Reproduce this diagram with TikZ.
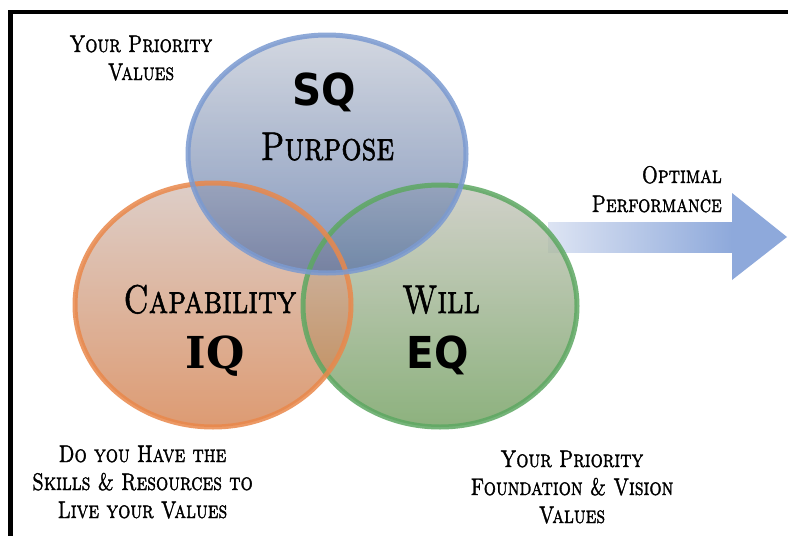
\documentclass[tikz,border=0pt]{standalone}
\usepackage{fontspec}
\usepackage{graphicx}
\newfontfamily\dvsans{DejaVu Sans}
\newfontfamily\dvserif{DejaVu Serif}
\newfontfamily\scfont{lmroman10-regular.otf}[SmallCapsFont=lmromancaps10-regular.otf, SmallCapsFeatures={FakeBold=1.6}]
\newcommand\sx[1]{\scalebox{0.8}[1]{#1}}
\definecolor{blueline}{HTML}{7B9AD1}
\definecolor{bluetop}{HTML}{C4CAD6}
\definecolor{bluebot}{HTML}{5A74A6}
\definecolor{orline}{HTML}{E9884B}
\definecolor{ortop}{HTML}{D2BEB6}
\definecolor{orbot}{HTML}{D27A44}
\definecolor{grline}{HTML}{5DA862}
\definecolor{grtop}{HTML}{C2C2B8}
\definecolor{grbot}{HTML}{679853}
\definecolor{arrowc}{HTML}{8EA9DB}
\definecolor{arrowl}{HTML}{DDE4F3}
\begin{document}
\begin{tikzpicture}[x=1pt,y=-1pt,
  desc/.style={inner sep=0pt, anchor=base, font=\scfont\fontsize{24}{28}\selectfont\scshape},
  title/.style={inner sep=0pt, anchor=base, font=\scfont\fontsize{40}{44}\selectfont\scshape},
  sanscode/.style={inner sep=0pt, anchor=base, font=\dvsans\bfseries\fontsize{44}{48}\selectfont},
  serifcode/.style={inner sep=0pt, anchor=base, font=\dvserif\bfseries\fontsize{44}{48}\selectfont},
  ringfill/.style={fill opacity=0.75},
  ring/.style={line width=5pt, draw opacity=0.85}]
\useasboundingbox (0,0) rectangle (788,536);
\fill[white] (0,0) rectangle (788,536);
% border
\draw[line width=4.8pt] (10.5,536) -- (10.5,12) -- (788,12);
% arrow
\shade[left color=arrowl, right color=arrowc] (548,222) -- (732,222) -- (732,252) -- (548,252) -- cycle;
\fill[arrowc] (732,193) -- (787,237) -- (732,280) -- cycle;
% ellipses fills
\shade[top color=grtop, bottom color=grbot, ringfill] (440,306) ellipse [x radius=137, y radius=121];
\shade[top color=ortop, bottom color=orbot, ringfill] (213,305) ellipse [x radius=138, y radius=122];
\shade[top color=bluetop, bottom color=bluebot, ringfill] (327,154) ellipse [x radius=139, y radius=119];
% outlines
\draw[grline, ring] (440,306) ellipse [x radius=137, y radius=121];
\draw[orline, ring] (213,305) ellipse [x radius=138, y radius=122];
\draw[blueline, ring] (327,154) ellipse [x radius=139, y radius=119];
% circle labels
\node[sanscode] (sq) at (324,105) {\scalebox{0.92}[1]{SQ}};
\node[title] (purpose) at (327.5,160) {\sx{Purpose}};
\node[title] (capability) at (210,313) {\sx{Capability}};
\node[serifcode] (iq) at (215,368) {IQ};
\node[title] (will) at (441,313) {\sx{Will}};
\node[sanscode] (eq) at (437.5,368) {\scalebox{0.92}[1]{EQ}};
% descriptions
\node[desc] (tl1) at (141,52) {\sx{Your Priority}};
\node[desc] (tl2) at (141,80) {\sx{Values}};
\node[desc, anchor=base east] (op1) at (722,183) {\sx{Optimal}};
\node[desc, anchor=base east] (op2) at (722,212) {\sx{Performance}};
\node[desc] (bl1) at (142.5,462) {\sx{Do you Have the}};
\node[desc] (bl2) at (142.5,490) {\sx{Skills \& Resources to}};
\node[desc] (bl3) at (142.5,518) {\sx{Live your Values}};
\node[desc] (br1) at (572,467) {\sx{Your Priority}};
\node[desc] (br2) at (572,495) {\sx{Foundation \& Vision}};
\node[desc] (br3) at (572,523) {\sx{Values}};
\end{tikzpicture}
\end{document}
